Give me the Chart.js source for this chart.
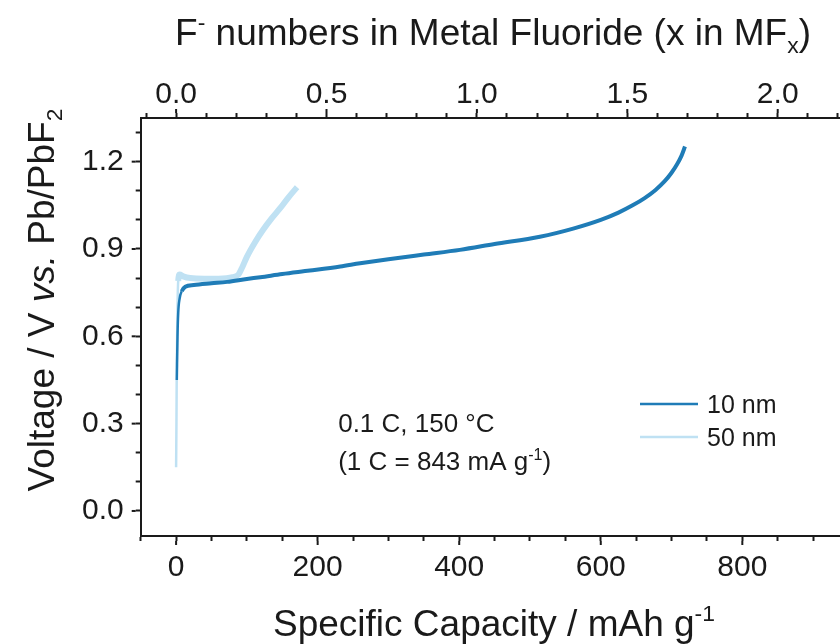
<!DOCTYPE html>
<html>
<head>
<meta charset="utf-8">
<script src="https://cdn.jsdelivr.net/npm/chart.js@4/dist/chart.umd.min.js"></script>
<style>
  html, body { margin: 0; padding: 0; background: #fff; overflow: hidden; }
</style>
</head>
<body>
<canvas id="chart" width="840" height="644"></canvas>
<script>
// 10 nm sample
const capacity10 = [1, 2, 3, 5, 8, 13, 25, 50, 72, 100, 119, 150, 189, 232, 260, 300, 350, 401, 450, 514, 561, 600, 625, 645, 662, 677, 690, 700, 708, 714, 719];
const voltage10  = [0.45, 0.60, 0.68, 0.73, 0.755, 0.77, 0.776, 0.782, 0.787, 0.797, 0.803, 0.814, 0.826, 0.840, 0.851, 0.865, 0.881, 0.897, 0.917, 0.942, 0.970, 1.000, 1.025, 1.050, 1.075, 1.102, 1.132, 1.162, 1.192, 1.220, 1.252];
// 50 nm sample
const capacity50 = [0, 0.5, 1, 2, 3, 5, 10, 20, 40, 60, 80, 88, 94, 100, 112, 123, 135, 147, 158, 168, 171];
const voltage50  = [0.15, 0.30, 0.50, 0.70, 0.79, 0.812, 0.806, 0.800, 0.798, 0.798, 0.803, 0.812, 0.840, 0.873, 0.925, 0.966, 1.005, 1.040, 1.075, 1.104, 1.112];

const seriesLabels = ['10 nm', '50 nm'];
const capacityTicks = [0, 200, 400, 600, 800];
const fluorideTicks = [0.0, 0.5, 1.0, 1.5, 2.0];
const voltageTicks = [0.0, 0.3, 0.6, 0.9, 1.2];
const capacityPerFluoride = 425; // mAh/g per F-

const FONT = '"Liberation Sans", Arial, Helvetica, sans-serif';
const INK = '#1a1a1a';
const DARK = '#1f7cb7';
const LIGHT = '#bfe1f3';

const xMin = -50, xMax = 938;

function near(v, list) {
  return list.some(t => Math.abs(v - t) < 1e-6);
}
function stepTicks(from, to, step) {
  const out = [];
  for (let i = 0; from + i * step <= to + 1e-9; i++) out.push({ value: +(from + i * step).toFixed(6) });
  return out;
}

const axisBase = {
  border: { color: INK, width: 2 },
  grid: { drawOnChartArea: false, tickLength: 5, tickWidth: 2, tickColor: INK },
};

// rich text: parts = [[text, kind]], kind '' | 'sup' | 'sub' | 'i'
function drawRich(ctx, parts, x, y, size, align) {
  const fontOf = k => (k === 'i' ? 'italic ' : '') + ((k === 'sup' || k === 'sub') ? size * 0.62 : size) + 'px ' + FONT;
  const widths = parts.map(([t, k]) => { ctx.font = fontOf(k); return ctx.measureText(t).width; });
  const total = widths.reduce((a, b) => a + b, 0);
  let cx = align === 'center' ? x - total / 2 : x;
  ctx.textAlign = 'left';
  ctx.textBaseline = 'alphabetic';
  parts.forEach(([t, k], i) => {
    ctx.font = fontOf(k);
    const dy = k === 'sup' ? -size * 0.4 : k === 'sub' ? size * 0.22 : 0;
    ctx.fillText(t, cx, y + dy);
    cx += widths[i];
  });
}

const extras = {
  id: 'extras',
  afterDraw(chart) {
    const { ctx, scales } = chart;
    const area = chart.chartArea;
    ctx.save();
    ctx.fillStyle = INK;

    // longer major ticks
    ctx.strokeStyle = INK;
    ctx.lineWidth = 2;
    const extra = 4, tl = 5;
    scales.x.ticks.forEach(t => {
      if (!near(t.value, capacityTicks)) return;
      const px = scales.x.getPixelForValue(t.value);
      ctx.beginPath(); ctx.moveTo(px, area.bottom + tl); ctx.lineTo(px, area.bottom + tl + extra); ctx.stroke();
    });
    scales.x2.ticks.forEach(t => {
      if (!near(t.value, fluorideTicks)) return;
      const px = scales.x2.getPixelForValue(t.value);
      ctx.beginPath(); ctx.moveTo(px, area.top - tl); ctx.lineTo(px, area.top - tl - extra); ctx.stroke();
    });
    scales.y.ticks.forEach(t => {
      if (!near(t.value, voltageTicks)) return;
      const py = scales.y.getPixelForValue(t.value);
      ctx.beginPath(); ctx.moveTo(area.left - tl, py); ctx.lineTo(area.left - tl - extra, py); ctx.stroke();
    });

    // axis titles
    drawRich(ctx, [['Specific Capacity / mAh g', ''], ['-1', 'sup']], 494, 636, 37, 'center');
    drawRich(ctx, [['F', ''], ['-', 'sup'], [' numbers in Metal Fluoride (x in MF', ''], ['x', 'sub'], [')', '']], 493, 45, 37, 'center');
    ctx.save();
    ctx.translate(54, 300);
    ctx.rotate(-Math.PI / 2);
    drawRich(ctx, [['Voltage / V ', ''], ['vs.', 'i'], [' Pb/PbF', ''], ['2', 'sub']], 0, 0, 37, 'center');
    ctx.restore();

    // condition note
    const nx = scales.x.getPixelForValue(229);
    const ny = scales.y.getPixelForValue(0.27);
    drawRich(ctx, [['0.1 C, 150 \u00B0C', '']], nx, ny, 26, 'left');
    drawRich(ctx, [['(1 C = 843 mA g', ''], ['-1', 'sup'], [')', '']], nx, ny + 38, 26, 'left');

    // legend
    chart.data.datasets.forEach((ds, i) => {
      const ly = 404 + i * 33;
      ctx.strokeStyle = ds.borderColor;
      ctx.lineWidth = 2.5;
      ctx.beginPath(); ctx.moveTo(640, ly); ctx.lineTo(698, ly); ctx.stroke();
      drawRich(ctx, [[ds.label, '']], 707, ly + 9, 25, 'left');
    });
    ctx.restore();
  }
};

new Chart(document.getElementById('chart'), {
  type: 'line',
  data: {
    datasets: [
      {
        label: seriesLabels[0],
        data: capacity10.map((c, i) => ({ x: c, y: voltage10[i] })),
        borderColor: DARK,
        borderWidth: 4,
        segment: { borderWidth: c => c.p0DataIndex < 4 ? 2.5 : 4 },
        pointRadius: 0,
        cubicInterpolationMode: 'monotone',
        fill: false
      },
      {
        label: seriesLabels[1],
        data: capacity50.map((c, i) => ({ x: c, y: voltage50[i] })),
        borderColor: LIGHT,
        borderWidth: 6,
        segment: { borderWidth: c => c.p0DataIndex < 4 ? 2.5 : 6 },
        pointRadius: 0,
        cubicInterpolationMode: 'monotone',
        fill: false
      }
    ]
  },
  options: {
    responsive: false,
    animation: false,
    events: [],
    layout: { padding: { left: 70, top: 77, bottom: 49, right: 0 } },
    plugins: { legend: { display: false }, tooltip: { enabled: false } },
    scales: {
      x: {
        ...axisBase,
        type: 'linear',
        position: 'bottom',
        min: xMin,
        max: xMax,
        afterBuildTicks: s => { s.ticks = stepTicks(-50, xMax, 50); },
        ticks: {
          autoSkip: false, maxRotation: 0, padding: 9, color: INK,
          font: { family: FONT, size: 30 },
          callback: v => near(v, capacityTicks) ? String(Math.round(v)) : ''
        }
      },
      x2: {
        ...axisBase,
        type: 'linear',
        position: 'top',
        min: xMin / capacityPerFluoride,
        max: xMax / capacityPerFluoride,
        afterBuildTicks: s => { s.ticks = stepTicks(-0.1, xMax / capacityPerFluoride, 0.1); },
        ticks: {
          autoSkip: false, maxRotation: 0, padding: 0, color: INK,
          font: { family: FONT, size: 30 },
          callback: v => near(v, fluorideTicks) ? v.toFixed(1) : ''
        }
      },
      y: {
        ...axisBase,
        type: 'linear',
        min: -0.086,
        max: 1.35,
        afterBuildTicks: s => { s.ticks = stepTicks(0, 1.3, 0.1); },
        ticks: {
          autoSkip: false, padding: 12, color: INK,
          font: { family: FONT, size: 30 },
          callback: v => near(v, voltageTicks) ? v.toFixed(1) : ''
        }
      }
    }
  },
  plugins: [extras]
});
</script>
</body>
</html>
